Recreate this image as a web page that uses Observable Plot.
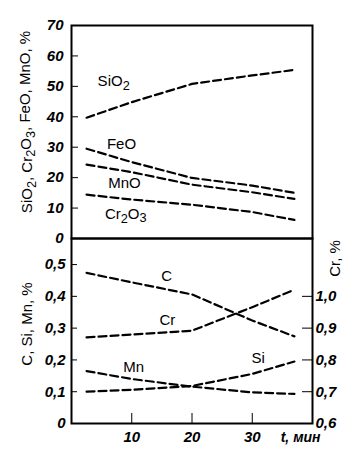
<!DOCTYPE html>
<html><head><meta charset="utf-8">
<script src="https://cdn.jsdelivr.net/npm/d3@7"></script>
<script src="https://cdn.jsdelivr.net/npm/@observablehq/plot@0.6"></script>
<style>
body{margin:0;background:#fff}
#c{position:relative;width:360px;height:457px}
#c svg{position:absolute;left:0}
</style>
</head><body><div id="c"></div>
<script>
// time, min
const times = [2.5, 10, 20, 30, 37];
// slag, %
const sio2  = [39.7, 44.8, 50.8, 53.6, 55.4];
const feo   = [29.5, 25.1, 19.9, 17.4, 15.0];
const mno   = [24.3, 21.8, 17.7, 15.2, 13.0];
const cr2o3 = [14.4, 12.8, 11.1, 8.7, 6.1];
// metal, %
const cC  = [0.474, 0.444, 0.406, 0.324, 0.274];
const cMn = [0.165, 0.140, 0.116, 0.098, 0.093];
const cSi = [0.100, 0.106, 0.118, 0.156, 0.195];
const cCr = [0.871, 0.880, 0.892, 0.966, 1.021]; // right axis
const crOffset = 0.6; // right axis value at left-axis zero

const topTicks = [0, 10, 20, 30, 40, 50, 60, 70];
const leftTicks = [0, 0.1, 0.2, 0.3, 0.4, 0.5];
const rightTicks = [0.6, 0.7, 0.8, 0.9, 1.0];
const xTicks = [10, 20, 30];

const topLabels = [
  {name: "SiO₂", t: 7.0, v: 51.6},
  {name: "FeO", t: 8.3, v: 30.9},
  {name: "MnO", t: 8.8, v: 18.1},
  {name: "Cr₂O₃", t: 9.0, v: 7.9}
];
const botLabels = [
  {name: "C", t: 15.8, v: 0.465},
  {name: "Cr", t: 15.9, v: 0.324},
  {name: "Mn", t: 10.3, v: 0.176},
  {name: "Si", t: 31.0, v: 0.204}
];

const comma = d => d3.format(".1f")(d).replace(".", ",");
const toRows = (vals, name) => vals.map((v, i) => ({t: times[i], v, name}));

const topData = [
  ...toRows(sio2, "SiO2"), ...toRows(feo, "FeO"),
  ...toRows(mno, "MnO"), ...toRows(cr2o3, "Cr2O3")
];
const botData = [
  ...toRows(cC, "C"), ...toRows(cMn, "Mn"), ...toRows(cSi, "Si"),
  ...toRows(cCr.map(v => v - crOffset), "Cr")
];

const font = "'Liberation Sans', Arial, sans-serif";
const baseStyle = {fontFamily: font, fontSize: "14px", background: "transparent", overflow: "visible"};
const lineOpts = {x: "t", y: "v", z: "name", stroke: "black", strokeWidth: 2.2, strokeDasharray: "8,4"};
const tickText = {fontStyle: "italic", fontSize: 15, fontWeight: "bold", label: null};

const topChart = Plot.plot({
  width: 360, height: 240,
  marginTop: 25, marginBottom: 2, marginLeft: 71, marginRight: 48,
  style: baseStyle,
  x: {domain: [0, 40], axis: null},
  y: {domain: [0, 70], axis: null},
  marks: [
    Plot.axisY(topTicks, {anchor: "left", tickSize: -7, tickPadding: 15, tickFormat: d => d, ...tickText}),
    Plot.frame({stroke: "black", strokeWidth: 2}),
    Plot.line(topData, lineOpts),
    Plot.text(topLabels, {x: "t", y: "v", text: "name", fontSize: 15}),
    Plot.text(["SiO₂, Cr₂O₃, FeO, MnO, %"], {frameAnchor: "left", textAnchor: "middle", lineAnchor: "middle", rotate: -90, dx: -44, dy: -10, fontSize: 15})
  ]
});
topChart.style.top = "0px";

const botChart = Plot.plot({
  width: 360, height: 229,
  marginTop: 10, marginBottom: 34, marginLeft: 71, marginRight: 48,
  style: baseStyle,
  x: {domain: [0, 40], axis: null},
  y: {domain: [0, 0.582], axis: null},
  marks: [
    Plot.axisY(leftTicks, {anchor: "left", tickSize: -6, tickPadding: 12, tickFormat: d => d === 0 ? "0" : comma(d), ...tickText}),
    Plot.axisY(rightTicks.map(d => d - crOffset), {anchor: "right", tickSize: -11, tickPadding: 14, tickFormat: d => comma(d + crOffset), ...tickText}),
    Plot.axisX(xTicks, {anchor: "bottom", tickSize: -10, tickPadding: 18, tickFormat: d => d, ...tickText}),
    Plot.frame({stroke: "black", strokeWidth: 2}),
    Plot.line(botData, lineOpts),
    Plot.text(botLabels, {x: "t", y: "v", text: "name", fontSize: 15}),
    Plot.text(["C, Si, Mn, %"], {frameAnchor: "left", textAnchor: "middle", lineAnchor: "middle", rotate: -90, dx: -44, dy: -7, fontSize: 15}),
    Plot.text(["Cr, %"], {frameAnchor: "top-right", textAnchor: "middle", lineAnchor: "middle", rotate: -90, dx: 23, dy: 20, fontSize: 15}),
    Plot.text(["t, мин"], {frameAnchor: "bottom-right", textAnchor: "end", lineAnchor: "middle", dx: 8, dy: 14, fontSize: 14, fontStyle: "italic", fontWeight: "bold"})
  ]
});
botChart.style.top = "228px";

// render unicode subscript digits as real lowered digits
const subMap = {"₂": "2", "₃": "3"};
function fixSubscripts(svg) {
  svg.querySelectorAll("text").forEach(t => {
    const s = t.textContent;
    if (!/[₂₃]/.test(s) || t.querySelector("tspan")) return;
    t.textContent = "";
    let low = false;
    for (const ch of s) {
      const isSub = ch in subMap;
      const ts = document.createElementNS("http://www.w3.org/2000/svg", "tspan");
      if (isSub && !low) { ts.setAttribute("dy", "0.3em"); low = true; }
      else if (!isSub && low) { ts.setAttribute("dy", "-0.3em"); low = false; }
      if (isSub) ts.setAttribute("font-size", "85%");
      ts.textContent = isSub ? subMap[ch] : ch;
      t.appendChild(ts);
    }
  });
}
fixSubscripts(topChart);

document.getElementById("c").append(topChart, botChart);
</script>
</body></html>
